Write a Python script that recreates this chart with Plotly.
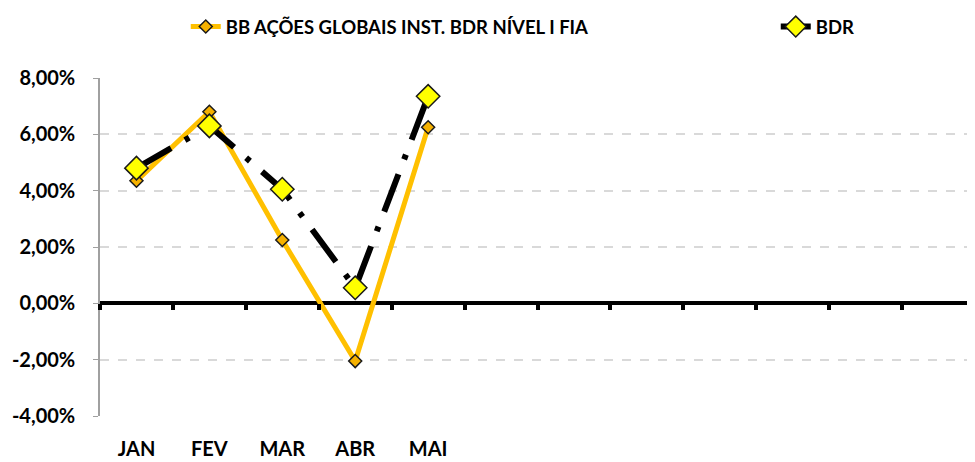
import plotly.graph_objects as go

meses = ["JAN", "FEV", "MAR", "ABR", "MAI"]
fundo = [4.35, 6.80, 2.25, -2.05, 6.25]
bdr = [4.80, 6.30, 4.05, 0.55, 7.35]
y_ticks = [-4, -2, 0, 2, 4, 6, 8]
y_labels = [f"{v:.2f}%".replace(".", ",") for v in y_ticks]
n_slots = 12

fig = go.Figure()
fig.add_trace(go.Scatter(
    x=list(range(len(meses))), y=fundo, name="BB AÇÕES GLOBAIS INST. BDR NÍVEL I FIA",
    mode="lines+markers", legendwidth=545,
    line=dict(color="#FFC000", width=5),
    marker=dict(symbol="diamond", size=10, color="#F5B100",
                line=dict(color="#1a1a1a", width=1.5)),
))
fig.add_trace(go.Scatter(
    x=list(range(len(meses))), y=bdr, name="BDR",
    mode="lines+markers", legendwidth=60,
    line=dict(color="#000000", width=6, dash="40px,16px,5px,16px"),
    marker=dict(symbol="diamond", size=18, color="#FFFF00",
                line=dict(color="#1a1a1a", width=1.5)),
))
# empty trace so the axis carrying the category tick marks at zero is drawn
fig.add_trace(go.Scatter(x=[], y=[], xaxis="x2", showlegend=False, hoverinfo="skip"))

fig.update_layout(
    width=967, height=454,
    margin=dict(l=92, r=0, t=66, b=46),
    paper_bgcolor="white", plot_bgcolor="white",
    font=dict(family="Lato", size=18, color="black", weight="bold"),
    showlegend=True,
    legend=dict(orientation="h", x=0.098, xanchor="left", y=1.152, yanchor="middle",
                font=dict(size=18.5, weight="bold"),
                bgcolor="rgba(0,0,0,0)"),
    xaxis=dict(range=[-0.5, n_slots - 0.5], tickmode="array",
               tickvals=list(range(len(meses))), ticktext=meses,
               ticks="outside", ticklen=15, tickcolor="rgba(0,0,0,0)",
               tickfont=dict(size=20, weight="bold"), automargin=False,
               showgrid=False, zeroline=False, showline=False),
    xaxis2=dict(overlaying="x", anchor="free", position=1/3, side="bottom",
                range=[-0.5, n_slots - 0.5], tickmode="array",
                tickvals=[i - 0.5 for i in range(n_slots + 1)],
                ticks="outside", ticklen=6, tickwidth=4, tickcolor="black",
                showticklabels=False, showgrid=False, zeroline=False, showline=False),
    yaxis=dict(range=[-4, 8], tickmode="array", tickvals=y_ticks, ticktext=y_labels,
               showgrid=True, gridcolor="#D9D9D9", gridwidth=1.5, griddash="dash",
               zeroline=True, zerolinecolor="black", zerolinewidth=4,
               showline=True, linecolor="#A0A0A0", linewidth=1.5,
               ticks="outside", ticklen=5, tickcolor="#A0A0A0",
               ticklabelstandoff=14, automargin=False,
               tickfont=dict(size=20, weight="bold")),
)

fig.write_html("out.html")
